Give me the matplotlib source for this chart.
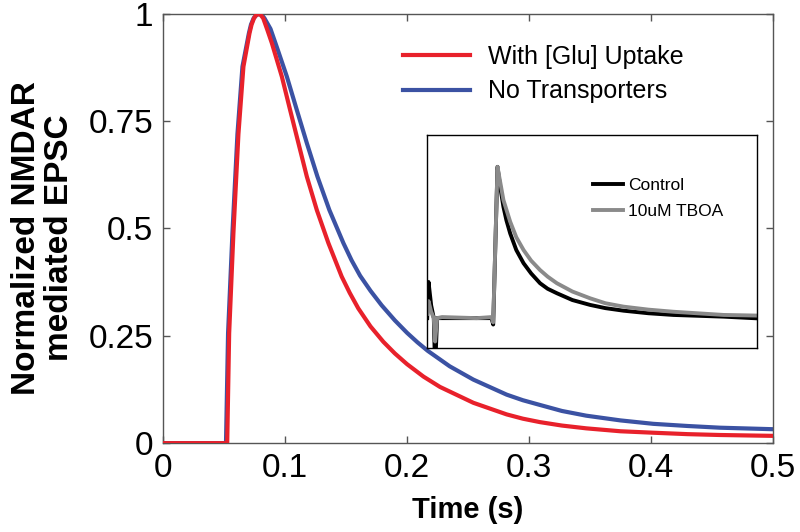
"""
NMDAR EPSC time course with and without glutamate uptake,
inset: recorded EPSC, control vs 10uM TBOA.
"""

import matplotlib
matplotlib.use("Agg")
import matplotlib.pyplot as plt

plt.rcParams["font.family"] = ["Liberation Sans", "DejaVu Sans"]

RED   = "#E8212B"
BLUE  = "#3B52A3"
GREY  = "#8A8A8A"
SPINE = "#555555"

# main panel, values
t_uptake = [0.0, 0.0525, 0.0541, 0.0576, 0.0617, 0.0658, 0.0708, 0.0725, 0.0745,
            0.0762, 0.0781, 0.080, 0.082, 0.0855, 0.0891, 0.0973, 0.1041, 0.1109,
            0.1178, 0.126, 0.1355, 0.1464, 0.153, 0.160, 0.170, 0.1806, 0.190,
            0.200, 0.2135, 0.227, 0.2544, 0.2817, 0.295, 0.309, 0.327, 0.347,
            0.375, 0.402, 0.430, 0.4566, 0.5]
v_uptake = [0.0, 0.0, 0.256, 0.49, 0.72, 0.877, 0.955, 0.975, 0.99,
            0.997, 1.0, 0.997, 0.99, 0.962, 0.932, 0.854, 0.776, 0.699,
            0.621, 0.543, 0.466, 0.388, 0.35, 0.314, 0.272, 0.236, 0.209,
            0.184, 0.155, 0.131, 0.094, 0.067, 0.057, 0.049, 0.041, 0.0345,
            0.0277, 0.0243, 0.021, 0.019, 0.017]

t_none = [0.0, 0.0515, 0.0532, 0.0568, 0.0609, 0.065, 0.0703, 0.072, 0.0742,
          0.0765, 0.0789, 0.081, 0.083, 0.088, 0.0935, 0.1014, 0.1096, 0.1178,
          0.1265, 0.1363, 0.1478, 0.1545, 0.1615, 0.170, 0.1792, 0.190, 0.200,
          0.2085, 0.217, 0.235, 0.2544, 0.2817, 0.295, 0.309, 0.327, 0.347,
          0.375, 0.402, 0.430, 0.4566, 0.5]
v_none = [0.0, 0.0, 0.256, 0.49, 0.72, 0.877, 0.955, 0.975, 0.99,
          0.997, 1.0, 0.997, 0.99, 0.965, 0.92, 0.854, 0.776, 0.699,
          0.621, 0.543, 0.466, 0.426, 0.39, 0.355, 0.321, 0.286, 0.257,
          0.235, 0.215, 0.179, 0.148, 0.113, 0.10, 0.089, 0.075, 0.064,
          0.053, 0.045, 0.04, 0.036, 0.0325]

# inset traces (arbitrary units)
ins_x = [0.000, 0.004, 0.012, 0.020, 0.024, 0.030, 0.045, 0.150, 0.195, 0.200,
         0.213, 0.220, 0.231, 0.240, 0.2515, 0.270, 0.292, 0.315, 0.342, 0.365,
         0.393, 0.440, 0.494, 0.540, 0.595, 0.670, 0.746, 0.898, 1.000]
ctrl_y = [0.14, 0.31, 0.20, 0.14, -0.10, 0.14, 0.14, 0.14, 0.14, 0.11,
          0.851, 0.77, 0.663, 0.60, 0.538, 0.46, 0.398, 0.35, 0.304, 0.278,
          0.257, 0.225, 0.202, 0.187, 0.175, 0.163, 0.155, 0.147, 0.139]
tboa_y = [0.16, 0.22, 0.17, 0.14, 0.03, 0.14, 0.145, 0.14, 0.145, 0.12,
          0.851, 0.79, 0.695, 0.65, 0.593, 0.52, 0.46, 0.41, 0.366, 0.335,
          0.304, 0.265, 0.233, 0.21, 0.194, 0.18, 0.17, 0.155, 0.152]

X_TICKS = [0, 0.1, 0.2, 0.3, 0.4, 0.5]
X_LABELS = ["0", "0.1", "0.2", "0.3", "0.4", "0.5"]
Y_TICKS = [0, 0.25, 0.5, 0.75, 1]
Y_LABELS = ["0", "0.25", "0.5", "0.75", "1"]

fig = plt.figure(figsize=(8, 5.32), dpi=100)
ax = fig.add_axes([0.204, 0.167, 0.762, 0.807])

ax.plot(t_none, v_none, color=BLUE, lw=3, label="No Transporters", zorder=2)
ax.plot(t_uptake, v_uptake, color=RED, lw=3, label="With [Glu] Uptake", zorder=3)

ax.set_xlim(0, 0.5)
ax.set_ylim(0, 1)
ax.set_xticks(X_TICKS)
ax.set_xticklabels(X_LABELS)
ax.set_yticks(Y_TICKS)
ax.set_yticklabels(Y_LABELS)
ax.tick_params(direction="in", length=5, width=1, color=SPINE,
               top=True, right=True, labelsize=24, pad=7)
for s in ax.spines.values():
    s.set_color(SPINE)
    s.set_linewidth(1)

ax.set_xlabel("Time (s)", fontsize=21, fontweight="bold", labelpad=9)
ax.set_ylabel("Normalized NMDAR\nmediated EPSC", fontsize=24,
              fontweight="bold", linespacing=1.1)
ax.yaxis.set_label_coords(-0.144, 0.478)

h, l = ax.get_legend_handles_labels()
ax.legend(h[::-1], l[::-1], loc="upper left", bbox_to_anchor=(0.393, 0.928),
          frameon=False, fontsize=18, handlelength=2.7, handletextpad=0.7,
          labelspacing=0.43, borderpad=0, borderaxespad=0)

# inset
ins = fig.add_axes([0.534, 0.346, 0.4125, 0.4])
ins.plot(ins_x, ctrl_y, color="black", lw=2.8, label="Control")
ins.plot(ins_x, tboa_y, color=GREY, lw=2.8, label="10uM TBOA")
ins.set_xlim(0, 1)
ins.set_ylim(0, 1)
ins.set_xticks([])
ins.set_yticks([])
for s in ins.spines.values():
    s.set_color("black")
    s.set_linewidth(1)
ins.legend(loc="upper left", bbox_to_anchor=(0.503, 0.80), frameon=False,
           fontsize=12.5, handlelength=1.7, handletextpad=0.3,
           labelspacing=0.64, borderpad=0, borderaxespad=0)

fig.savefig("out.png", dpi=100, facecolor="white")
